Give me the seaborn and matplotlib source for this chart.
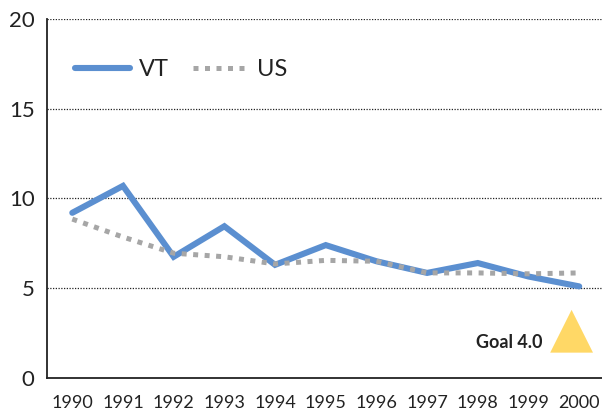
import matplotlib
matplotlib.use("Agg")
import matplotlib.pyplot as plt
import seaborn as sns
import pandas as pd

# --- data ---
years = [1990, 1991, 1992, 1993, 1994, 1995, 1996, 1997, 1998, 1999, 2000]
vt = [9.2, 10.7, 6.75, 8.45, 6.3, 7.4, 6.5, 5.85, 6.4, 5.65, 5.1]
us = [8.85, 7.85, 6.95, 6.75, 6.35, 6.55, 6.5, 5.85, 5.85, 5.8, 5.85]
goal_label = "Goal 4.0"
y_ticks = [0, 5, 10, 15, 20]

BLUE = "#5B8FD0"
GRAY = "#A6A6A6"
GOLD = "#FFD866"

sns.set_style("white")
plt.rcParams["font.family"] = ["Lato", "DejaVu Sans"]

df = pd.DataFrame({"year": years, "VT": vt, "US": us})

fig = plt.figure(figsize=(6.02, 4.13), dpi=100)
ax = fig.add_axes([0.078, 0.085, 0.922, 0.869])

sns.lineplot(data=df, x="year", y="VT", ax=ax, color=BLUE, lw=4.4,
             label="VT", solid_joinstyle="miter")
sns.lineplot(data=df, x="year", y="US", ax=ax, color=GRAY, lw=3.6,
             label="US", dashes=False)
ax.lines[-1].set_linestyle((0, (1.0, 1.3)))
ax.lines[-1].set_dash_capstyle("butt")

# goal marker
ax.scatter([1999.85], [2.6], marker="^", s=950, color=GOLD, zorder=3,
           edgecolors="none", clip_on=False)
ax.text(1999.28, 2.0, goal_label, ha="right", va="center", fontsize=13,
        fontweight="bold", color="#222222")

ax.set_xlim(1989.5, 2000.45)
ax.set_ylim(0, 20)
ax.set_xticks(years)
ax.set_xticklabels([str(y) for y in years])
ax.set_yticks(y_ticks)
ax.set_xlabel("")
ax.set_ylabel("")

for y in y_ticks[1:]:
    ax.axhline(y, color="#222222", lw=0.9, ls=(0, (1, 1.2)), zorder=0)

for s in ["top", "right"]:
    ax.spines[s].set_visible(False)
for s in ["left", "bottom"]:
    ax.spines[s].set_color("#222222")
    ax.spines[s].set_linewidth(1.3)

ax.tick_params(axis="both", which="both", direction="out", length=6,
               width=1.0, color="#222222", labelsize=13, labelcolor="#222222")
ax.tick_params(axis="y", labelsize=16, pad=3)
ax.tick_params(axis="x", pad=6)

leg = ax.legend(loc="upper left", bbox_to_anchor=(0.012, 0.947), ncol=2,
                frameon=False, fontsize=17, handlelength=2.35,
                handletextpad=0.38, columnspacing=1.0)
for t in leg.get_texts():
    t.set_color("#222222")

fig.savefig("out.png", dpi=100)
